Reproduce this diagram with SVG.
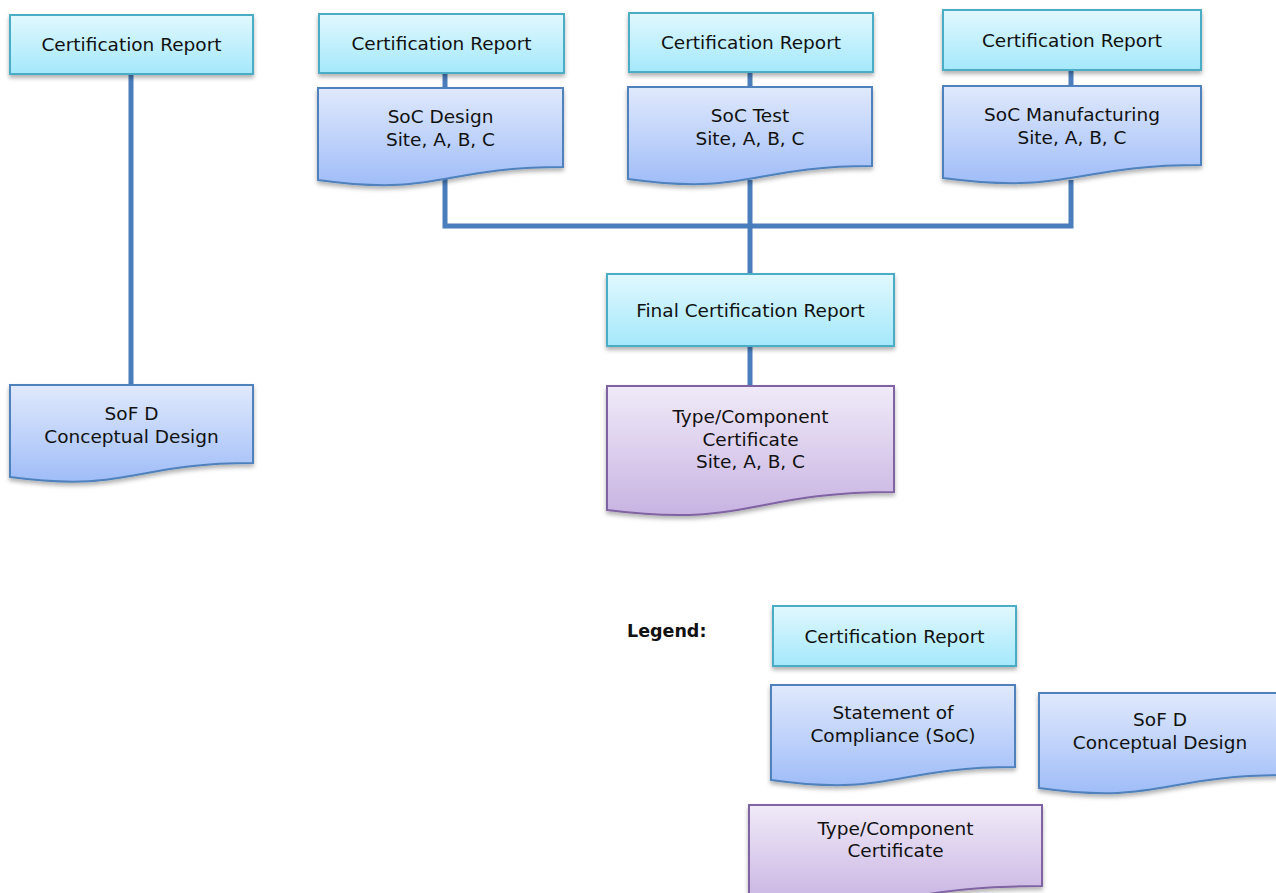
<svg xmlns="http://www.w3.org/2000/svg" width="1276" height="893" viewBox="0 0 1276 893">
<defs>
<linearGradient id="gCyan" x1="0" y1="0" x2="0" y2="1"><stop offset="0" stop-color="#e1f8fe"/><stop offset="1" stop-color="#a4e8fb"/></linearGradient>
<linearGradient id="gBlue" x1="0" y1="0" x2="0" y2="1"><stop offset="0" stop-color="#e0e9fc"/><stop offset="1" stop-color="#a0bdf8"/></linearGradient>
<linearGradient id="gPurple" x1="0" y1="0" x2="0" y2="1"><stop offset="0" stop-color="#f0eaf8"/><stop offset="1" stop-color="#c8b3e2"/></linearGradient>
<filter id="sh" x="-10%" y="-10%" width="120%" height="130%"><feDropShadow dx="0" dy="3" stdDeviation="2" flood-color="#000" flood-opacity="0.3"/></filter>
<style>
.cr{fill:url(#gCyan);stroke:#4bacc6;stroke-width:2;filter:url(#sh)}
.soc{fill:url(#gBlue);stroke:#4f81bd;stroke-width:2;filter:url(#sh)}
.tc{fill:url(#gPurple);stroke:#8064a2;stroke-width:2;filter:url(#sh)}
text{font-family:"DejaVu Sans",Verdana,sans-serif;font-size:18.5px;fill:#111;text-anchor:middle}
.lg{font-weight:bold;text-anchor:start;font-size:17.5px}
.conn{fill:none;stroke:#4a7dbb;stroke-width:5}
</style>
</defs>
<g id="connectors">
<path class="conn" d="M131,74 V386"/>
<path class="conn" d="M445,73 V89"/>
<path class="conn" d="M750,72 V88"/>
<path class="conn" d="M1071,70 V87"/>
<path class="conn" d="M445,178 V226 H1071 V180"/>
<path class="conn" d="M750,180 V275"/>
<path class="conn" d="M750,346 V387"/>
</g>
<g id="cr1"><rect class="cr" x="10" y="15" width="243" height="59"/><text x="131.5" y="51">Certification Report</text></g>
<g id="cr2"><rect class="cr" x="319" y="14" width="245" height="59"/><text x="441.5" y="50">Certification Report</text></g>
<g id="cr3"><rect class="cr" x="629" y="13" width="244" height="59"/><text x="751" y="49">Certification Report</text></g>
<g id="cr4"><rect class="cr" x="943" y="10" width="258" height="60"/><text x="1072" y="47">Certification Report</text></g>
<g id="socDesign"><path class="soc" d="M318,88 H563 V167 C440,167 440,197 318,180 Z"/><text x="440.5" y="123">SoC Design</text><text x="440.5" y="146">Site, A, B, C</text></g>
<g id="socTest"><path class="soc" d="M628,87 H872 V166 C750,166 750,196 628,179 Z"/><text x="750" y="122">SoC Test</text><text x="750" y="145">Site, A, B, C</text></g>
<g id="socManu"><path class="soc" d="M943,86 H1201 V165 C1072,165 1072,195 943,178 Z"/><text x="1072" y="121">SoC Manufacturing</text><text x="1072" y="144">Site, A, B, C</text></g>
<g id="sofd"><path class="soc" d="M10,385 H253 V463 C131,463 131,493 10,477 Z"/><text x="131.5" y="420">SoF D</text><text x="131.5" y="443">Conceptual Design</text></g>
<g id="finalCert"><rect class="cr" x="607" y="274" width="287" height="72"/><text x="750.5" y="317">Final Certification Report</text></g>
<g id="typeCert"><path class="tc" d="M607,386 H894 V492 C750,492 750,528 607,510 Z"/><text x="750.5" y="423">Type/Component</text><text x="750.5" y="446">Certificate</text><text x="750.5" y="468">Site, A, B, C</text></g>
<g id="legend">
<text class="lg" x="627" y="637">Legend:</text>
</g>
<g id="legCert"><rect class="cr" x="773" y="606" width="243" height="60"/><text x="894.5" y="643">Certification Report</text></g>
<g id="legSoc"><path class="soc" d="M771,685 H1015 V767 C893,767 893,797 771,780 Z"/><text x="893" y="719">Statement of</text><text x="893" y="742">Compliance (SoC)</text></g>
<g id="legSofd"><path class="soc" d="M1039,693 H1290 V775 C1160,775 1160,805 1039,788 Z"/><text x="1160" y="726">SoF D</text><text x="1160" y="749">Conceptual Design</text></g>
<g id="legType"><path class="tc" d="M749,805 H1042 V886 C896,886 896,916 749,900 Z"/><text x="895.5" y="835">Type/Component</text><text x="895.5" y="857">Certificate</text></g>
</svg>
